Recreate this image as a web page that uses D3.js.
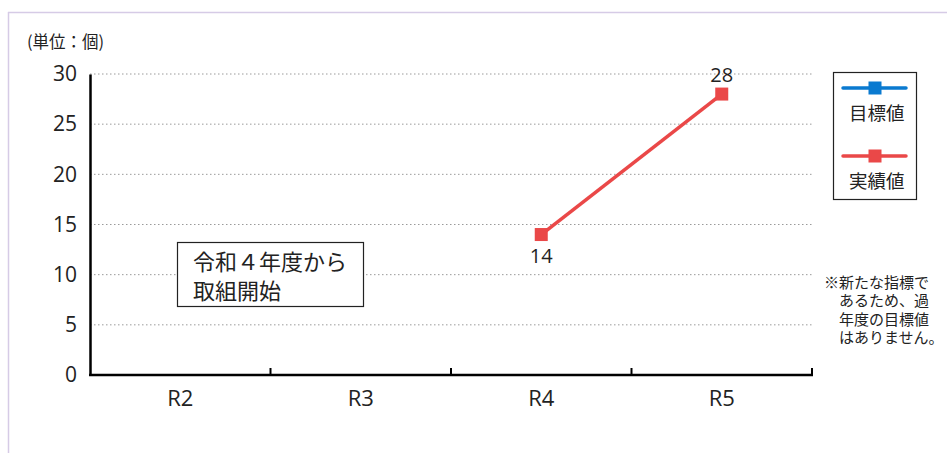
<!DOCTYPE html>
<html>
<head>
<meta charset="utf-8">
<script src="https://cdn.jsdelivr.net/npm/d3@7"></script>
<style>
  html, body { margin: 0; padding: 0; background: #fff; }
  svg { display: block; font-family: "Noto Sans CJK JP", "Noto Sans", sans-serif; }
</style>
</head>
<body>
<svg id="chart" width="947" height="453"></svg>
<script>
// Fiscal years (Reiwa era) on the x axis
const categories = ["R2", "R3", "R4", "R5"];
// Target values: none set for this new indicator
const targetValues = [null, null, null, null];
// Actual values
const actualValues = [null, null, 14, 28];
// Y axis ticks
const yTicks = [0, 5, 10, 15, 20, 25, 30];
const seriesNames = ["目標値", "実績値"];
const unitLabel = "(単位：個)";
const noteLines = ["※新たな指標で", "あるため、過", "年度の目標値", "はありません。"];
const boxLines = ["令和４年度から", "取組開始"];

const svg = d3.select("#chart");
const blue = "#0a7ad0";
const red = "#ea4848";
const numFont = "'Open Sans', 'Noto Sans', sans-serif";

// Outer frame (top and left edges)
svg.append("line").attr("x1", 8).attr("x2", 947).attr("y1", 12.5).attr("y2", 12.5)
  .attr("stroke", "#d6cbe6").attr("stroke-width", 1.5);
svg.append("line").attr("x1", 8.5).attr("x2", 8.5).attr("y1", 12).attr("y2", 453)
  .attr("stroke", "#d6cbe6").attr("stroke-width", 1.5);

const plotLeft = 90, plotRight = 812, plotTop = 74, plotBottom = 375;
const x = d3.scaleBand().domain(categories).range([plotLeft, plotRight]);
const y = d3.scaleLinear().domain([0, 30]).range([plotBottom, plotTop]);

// Dotted grid lines
svg.append("g").selectAll("line").data(yTicks.filter(t => t > 0)).join("line")
  .attr("x1", plotLeft).attr("x2", plotRight)
  .attr("y1", d => y(d)).attr("y2", d => y(d))
  .attr("stroke", "#9a9a9a").attr("stroke-width", 1)
  .attr("stroke-dasharray", "1.5,2.5");

// Y axis
const yAxis = svg.append("g").attr("transform", `translate(${plotLeft},0)`)
  .call(d3.axisLeft(y).tickValues(yTicks).tickSize(0).tickPadding(13));
yAxis.select(".domain").attr("stroke", "#000").attr("stroke-width", 2.5);
yAxis.selectAll("text").attr("font-size", 21).attr("fill", "#222")
  .attr("font-family", numFont);

// X axis with band-boundary ticks pointing up
const xAxis = svg.append("g").attr("transform", `translate(0,${plotBottom})`);
xAxis.append("line").attr("x1", plotLeft - 1).attr("x2", plotRight + 1).attr("y1", 0).attr("y2", 0)
  .attr("stroke", "#000").attr("stroke-width", 2.5);
xAxis.selectAll("line.tick").data(categories).join("line").attr("class", "tick")
  .attr("x1", d => x(d) + x.bandwidth()).attr("x2", d => x(d) + x.bandwidth())
  .attr("y1", 0).attr("y2", -7)
  .attr("stroke", "#000").attr("stroke-width", 2);
xAxis.selectAll("text").data(categories).join("text")
  .attr("x", d => x(d) + x.bandwidth() / 2).attr("y", 31)
  .attr("text-anchor", "middle").attr("font-size", 22).attr("fill", "#222")
  .attr("font-family", numFont)
  .text(d => d);

// Unit label
svg.append("text").attr("x", 27).attr("y", 48).attr("font-size", 16.5).attr("fill", "#222")
  .text(unitLabel);

// Actual series line and markers
const pts = categories.map((c, i) => ({ c, v: actualValues[i] })).filter(d => d.v != null);
const line = d3.line().x(d => x(d.c) + x.bandwidth() / 2).y(d => y(d.v));
svg.append("path").datum(pts).attr("d", line)
  .attr("fill", "none").attr("stroke", red).attr("stroke-width", 3.5);
svg.append("g").selectAll("rect").data(pts).join("rect")
  .attr("x", d => x(d.c) + x.bandwidth() / 2 - 6.5)
  .attr("y", d => y(d.v) - 6.5)
  .attr("width", 13).attr("height", 13).attr("fill", red);

// Value labels: first below the point, last above
svg.append("g").selectAll("text").data(pts).join("text")
  .attr("x", d => x(d.c) + x.bandwidth() / 2)
  .attr("y", (d, i) => i === 0 ? y(d.v) + 28 : y(d.v) - 12)
  .attr("text-anchor", "middle").attr("font-size", 20).attr("fill", "#222")
  .attr("font-family", numFont)
  .text(d => d.v);

// Annotation box
svg.append("rect").attr("x", 177.5).attr("y", 242.5).attr("width", 186).attr("height", 64)
  .attr("fill", "#fff").attr("stroke", "#222").attr("stroke-width", 1.2);
svg.append("text").attr("font-size", 22).attr("fill", "#222")
  .selectAll("tspan").data(boxLines).join("tspan")
  .attr("x", 193).attr("y", (d, i) => 270 + i * 29).text(d => d);

// Legend
const lg = svg.append("g");
lg.append("rect").attr("x", 833.5).attr("y", 72.5).attr("width", 83).attr("height", 127)
  .attr("fill", "#fff").attr("stroke", "#222").attr("stroke-width", 1.2);
const legendItems = [{ name: seriesNames[0], color: blue }, { name: seriesNames[1], color: red }];
legendItems.forEach((item, i) => {
  const cy = 88 + i * 68;
  lg.append("line").attr("x1", 843).attr("x2", 906).attr("y1", cy).attr("y2", cy)
    .attr("stroke", item.color).attr("stroke-width", 3.5).attr("stroke-linecap", "round");
  lg.append("rect").attr("x", 868.5).attr("y", cy - 6.5).attr("width", 13).attr("height", 13)
    .attr("fill", item.color);
  lg.append("text").attr("x", 849).attr("y", cy + 32).attr("font-size", 18.5).attr("fill", "#222")
    .text(item.name);
});

// Side note as a single multi-line text block
svg.append("text").attr("font-size", 15).attr("fill", "#222")
  .selectAll("tspan").data(noteLines).join("tspan")
  .attr("x", (d, i) => i === 0 ? 824 : 839)
  .attr("y", (d, i) => 287.5 + i * 18.5)
  .text(d => d);
</script>
</body>
</html>
